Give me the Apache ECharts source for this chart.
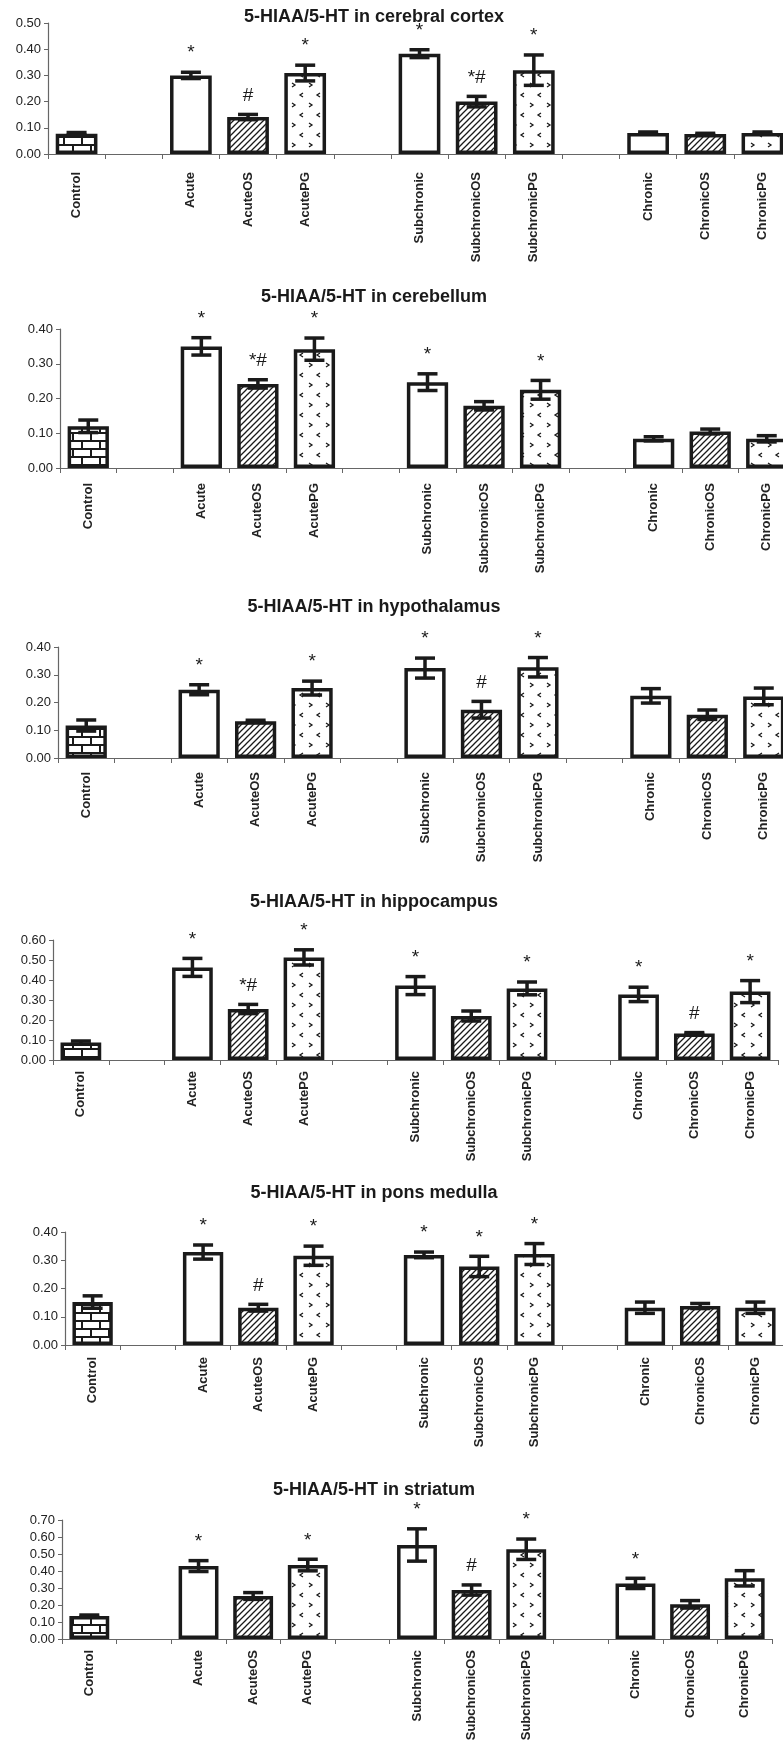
<!DOCTYPE html>
<html>
<head>
<meta charset="utf-8">
<script src="https://cdn.jsdelivr.net/npm/echarts@6/dist/echarts.min.js"></script>
<style>
  html, body { margin: 0; padding: 0; background: #fff; overflow: hidden; }
  #chart { width: 783px; height: 1742px; }
</style>
</head>
<body>
<div id="chart"></div>
<script>
// categories (blank ones are the gaps between groups)
const categories = ['Control', ' ', 'Acute', 'AcuteOS', 'AcutePG', '  ',
  'Subchronic', 'SubchronicOS', 'SubchronicPG', '   ', 'Chronic', 'ChronicOS', 'ChronicPG']

const titles = [
  '5-HIAA/5-HT in cerebral cortex',
  '5-HIAA/5-HT in cerebellum',
  '5-HIAA/5-HT in hypothalamus',
  '5-HIAA/5-HT in hippocampus',
  '5-HIAA/5-HT in pons medulla',
  '5-HIAA/5-HT in striatum'
]
const yMax = [0.5, 0.4, 0.4, 0.6, 0.4, 0.7]

const cortexMean = [0.077, null, 0.300, 0.141, 0.309, null, 0.383, 0.200, 0.320, null, 0.080, 0.076, 0.080]
const cortexErr = [0.005, null, 0.012, 0.010, 0.030, null, 0.015, 0.020, 0.058, null, 0.004, 0.003, 0.004]
const cortexMark = ['', '', '*', '#', '*', '', '*', '*#', '*', '', '', '', '']

const cerebellumMean = [0.120, null, 0.350, 0.242, 0.342, null, 0.247, 0.179, 0.225, null, 0.084, 0.105, 0.084]
const cerebellumErr = [0.018, null, 0.025, 0.012, 0.032, null, 0.024, 0.012, 0.027, null, 0.006, 0.007, 0.009]
const cerebellumMark = ['', '', '*', '*#', '*', '', '*', '', '*', '', '', '', '']

const hypothalamusMean = [0.117, null, 0.246, 0.132, 0.252, null, 0.324, 0.174, 0.327, null, 0.224, 0.156, 0.222]
const hypothalamusErr = [0.020, null, 0.018, 0.004, 0.025, null, 0.036, 0.030, 0.035, null, 0.026, 0.017, 0.030]
const hypothalamusMark = ['', '', '*', '', '*', '', '*', '#', '*', '', '', '', '']

const hippocampusMean = [0.087, null, 0.463, 0.255, 0.513, null, 0.372, 0.220, 0.358, null, 0.328, 0.133, 0.342]
const hippocampusErr = [0.008, null, 0.045, 0.023, 0.038, null, 0.045, 0.025, 0.032, null, 0.036, 0.004, 0.055]
const hippocampusMark = ['', '', '*', '*#', '*', '', '*', '', '*', '', '*', '#', '*']

const ponsMean = [0.152, null, 0.329, 0.132, 0.316, null, 0.319, 0.278, 0.322, null, 0.132, 0.138, 0.132]
const ponsErr = [0.022, null, 0.025, 0.012, 0.034, null, 0.010, 0.036, 0.037, null, 0.020, 0.009, 0.020]
const ponsMark = ['', '', '*', '#', '*', '', '*', '*', '*', '', '', '', '']

const striatumMean = [0.135, null, 0.429, 0.253, 0.435, null, 0.553, 0.288, 0.528, null, 0.327, 0.204, 0.357]
const striatumErr = [0.006, null, 0.032, 0.020, 0.034, null, 0.095, 0.030, 0.060, null, 0.030, 0.022, 0.045]
const striatumMark = ['', '', '*', '', '*', '', '*', '#', '*', '', '*', '', '']

const means = [cortexMean, cerebellumMean, hypothalamusMean, hippocampusMean, ponsMean, striatumMean]
const errs = [cortexErr, cerebellumErr, hypothalamusErr, hippocampusErr, ponsErr, striatumErr]
const marks = [cortexMark, cerebellumMark, hypothalamusMark, hippocampusMark, ponsMark, striatumMark]

// plot boxes in px (left, right end of x axis, top = max tick, bottom = zero line)
const boxes = [
  { left: 48, right: 791, top: 23, bottom: 154, titleY: 17, gap: 18 },
  { left: 60, right: 795, top: 329, bottom: 468, titleY: 297, gap: 15 },
  { left: 58, right: 792, top: 647, bottom: 758, titleY: 607, gap: 14 },
  { left: 53, right: 778, top: 940, bottom: 1060, titleY: 902, gap: 11 },
  { left: 65, right: 783, top: 1232, bottom: 1345, titleY: 1193, gap: 12 },
  { left: 62, right: 772, top: 1520, bottom: 1639, titleY: 1490, gap: 11 }
]

const FONT = "'Liberation Sans', Arial, Helvetica, sans-serif"
const INK = '#1a1a1a'

// fill patterns
function tile(w, h, draw) {
  const c = document.createElement('canvas')
  c.width = w; c.height = h
  const g = c.getContext('2d')
  g.fillStyle = '#fff'
  g.fillRect(0, 0, w, h)
  draw(g)
  return { image: c, repeat: 'repeat' }
}
const brick = tile(18, 16, g => {
  g.fillStyle = INK
  g.fillRect(0, 0, 18, 2)
  g.fillRect(0, 8, 18, 2)
  g.fillRect(0, 0, 2, 8)
  g.fillRect(9, 8, 2, 8)
})
const hatch = tile(6, 6, g => {
  g.strokeStyle = INK
  g.lineWidth = 1.3
  g.beginPath()
  g.moveTo(-1, 7); g.lineTo(7, -1)
  g.moveTo(-1, 1); g.lineTo(1, -1)
  g.moveTo(5, 7); g.lineTo(7, 5)
  g.stroke()
})
const dots = tile(17, 20, g => {
  g.strokeStyle = INK
  g.lineWidth = 1.3
  g.beginPath()
  g.moveTo(3, 3); g.lineTo(6, 5); g.lineTo(3, 7)
  g.moveTo(14, 13); g.lineTo(11, 15); g.lineTo(14, 17)
  g.stroke()
})
function fillFor(name) {
  if (name === 'Control') return brick
  if (name.endsWith('OS')) return hatch
  if (name.endsWith('PG')) return dots
  return '#fff'
}

const chart = echarts.init(document.getElementById('chart'))

let grid = [], xAxis = [], yAxis = [], series = [], graphic = []
boxes.forEach((b, p) => {
  grid.push({
    left: b.left, top: b.top, width: b.right - b.left, height: b.bottom - b.top,
    containLabel: false, outerBoundsMode: 'none'
  })
  xAxis.push({
    type: 'category', gridIndex: p, data: categories,
    axisLine: { lineStyle: { color: '#666', width: 1.2 } },
    axisTick: { show: true, length: 5, interval: 0, lineStyle: { color: '#666' } },
    axisLabel: {
      interval: 0, rotate: 90, margin: b.gap,
      fontFamily: FONT, fontSize: 13, fontWeight: 'bold', color: '#222'
    }
  })
  yAxis.push({
    type: 'value', gridIndex: p, min: 0, max: yMax[p], interval: 0.1,
    splitLine: { show: false },
    axisLine: { show: true, lineStyle: { color: '#666', width: 1.2 } },
    axisTick: { show: true, length: 4, lineStyle: { color: '#666' } },
    axisLabel: {
      margin: 7, fontFamily: FONT, fontSize: 13, color: '#222',
      formatter: v => v.toFixed(2)
    }
  })
  series.push({
    type: 'bar', xAxisIndex: p, yAxisIndex: p,
    barWidth: '73%',
    data: means[p].map((v, i) => v == null ? '-' : {
      value: v, itemStyle: { color: fillFor(categories[i]) }
    }),
    itemStyle: { borderColor: INK, borderWidth: 3.5 },
    silent: true
  })
  const mk = marks[p]
  series.push({
    type: 'custom', xAxisIndex: p, yAxisIndex: p, z: 5, silent: true,
    data: means[p].map((v, i) => [i, v, errs[p][i]]).filter(d => d[1] != null),
    encode: { x: 0, y: 1 },
    renderItem: (params, api) => {
      const i = api.value(0), m = api.value(1), e = api.value(2)
      const top = api.coord([i, m + e])
      const bot = api.coord([i, m - e])
      const st = { stroke: INK, lineWidth: 3.5 }
      const kids = [
        { type: 'line', shape: { x1: top[0], y1: top[1], x2: bot[0], y2: bot[1] }, style: st },
        { type: 'line', shape: { x1: top[0] - 10, y1: top[1], x2: top[0] + 10, y2: top[1] }, style: st },
        { type: 'line', shape: { x1: bot[0] - 10, y1: bot[1], x2: bot[0] + 10, y2: bot[1] }, style: st }
      ]
      if (mk[i]) {
        kids.push({
          type: 'text', x: top[0], y: top[1] - 19,
          style: {
            text: mk[i], fill: INK, font: '19px ' + FONT,
            align: 'center', verticalAlign: 'middle'
          }
        })
      }
      return { type: 'group', children: kids }
    }
  })
  graphic.push({
    type: 'text', x: 374, y: b.titleY,
    style: {
      text: titles[p], fill: INK, font: 'bold 18px ' + FONT,
      align: 'center', verticalAlign: 'middle'
    }
  })
})

chart.setOption({
  animation: false,
  backgroundColor: '#fff',
  grid, xAxis, yAxis, series, graphic
})
</script>
</body>
</html>
